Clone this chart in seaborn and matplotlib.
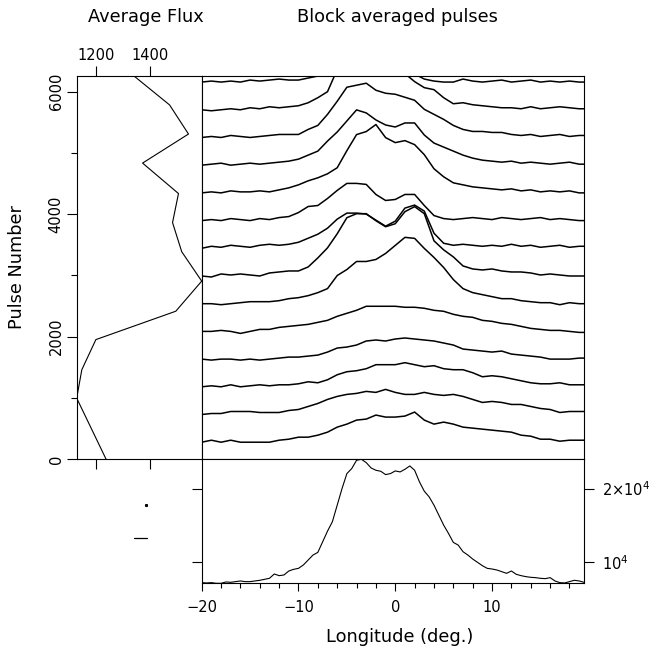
import numpy as np
import pandas as pd
import matplotlib
matplotlib.use("Agg")
import matplotlib.pyplot as plt
from matplotlib.ticker import MultipleLocator
import seaborn as sns

sns.set_style("ticks")
plt.rcParams['font.family'] = ['DejaVu Sans']
plt.rcParams['axes.linewidth'] = 0.8
for key in ['text.color', 'axes.edgecolor', 'axes.labelcolor', 'xtick.color', 'ytick.color']:
    plt.rcParams[key] = 'black'

# longitude grid of the block profiles (deg)
LON = list(range(-20, 20)) + [19.5]

# block profiles, bottom (block 0) to top (block 13), relative intensity
PROFILE_00 = [0, 2, 0, 2, 0, 0, 0, 0, 2, 3, 5, 5, 7, 10, 15, 18, 22, 23, 27, 25,
              25, 26, 30, 22, 18, 20, 18, 15, 14, 13, 12, 11, 10, 7, 6, 3, 3, 1, 2, 2, 2]
PROFILE_01 = [0, 1, 1, 3, 3, 3, 2, 2, 2, 4, 5, 8, 11, 15, 18, 20, 21, 23, 22, 25,
              22, 20, 20, 22, 20, 19, 20, 18, 15, 12, 13, 12, 10, 10, 8, 6, 5, 2, 3, 3, 3]
PROFILE_02 = [0, 1, 0, 2, 0, 1, 2, 1, 2, 2, 3, 5, 4, 7, 12, 15, 16, 18, 22, 22,
              22, 24, 22, 20, 21, 18, 17, 17, 14, 10, 11, 10, 8, 6, 4, 3, 3, 4, 2, 2, 2]
PROFILE_03 = [0, -1, 0, 0, -1, 0, -1, 0, 1, 2, 2, 3, 4, 7, 11, 12, 14, 18, 19, 18,
              20, 21, 20, 19, 18, 16, 14, 10, 9, 8, 7, 8, 5, 4, 3, 2, 0, 0, 0, 1, 1]
PROFILE_04 = [0, 0, 1, 0, -2, 0, 2, 2, 4, 5, 6, 7, 9, 11, 15, 18, 21, 25, 25, 25,
              25, 24, 24, 23, 21, 20, 17, 15, 14, 11, 10, 8, 7, 5, 3, 2, 1, 1, 0, -1, -1]
PROFILE_05 = [0, 0, -1, 0, 1, 2, 2, 2, 3, 5, 6, 8, 11, 15, 28, 34, 42, 42, 44, 50,
              58, 66, 65, 55, 46, 36, 24, 15, 11, 9, 7, 5, 5, 3, 2, 1, 1, -1, 1, 0, 0]
PROFILE_06 = [0, -1, 2, 1, 2, 1, 0, 3, 4, 5, 5, 9, 18, 28, 42, 58, 62, 62, 55, 49,
              52, 64, 69, 62, 35, 26, 19, 10, 7, 6, 7, 5, 4, 4, 3, 1, 2, 1, 0, 0, 0]
PROFILE_07 = [0, 2, 1, 3, 2, 1, 3, 4, 3, 4, 6, 10, 14, 20, 29, 35, 35, 34, 28, 22,
              27, 40, 43, 37, 15, 5, 3, 4, 3, 2, 3, 2, 4, 2, 3, 1, 2, 3, 1, 2, 2]
PROFILE_08 = [0, 1, 0, 2, 1, 0, 2, 1, 3, 4, 8, 14, 15, 22, 30, 37, 37, 36, 26, 20,
              21, 26, 26, 15, 5, 2, 1, 2, 3, 2, 1, 3, 2, 1, 2, 3, 1, 2, 1, 0, 0]
PROFILE_09 = [0, 1, 0, 2, 1, 1, 2, 1, 3, 5, 8, 12, 15, 19, 25, 42, 58, 61, 68, 55,
              50, 52, 48, 38, 24, 16, 10, 8, 6, 5, 4, 3, 4, 2, 3, 1, 2, 1, 2, 0, 0]
PROFILE_10 = [0, 1, 2, 0, 1, 2, 1, 2, 3, 4, 6, 10, 14, 24, 33, 44, 55, 52, 45, 40,
              38, 42, 42, 30, 22, 18, 14, 10, 7, 5, 4, 3, 4, 2, 3, 2, 1, 2, 3, 1, 1]
PROFILE_11 = [0, 1, 0, 2, 1, 0, 1, 2, 3, 3, 3, 8, 12, 23, 36, 50, 52, 54, 47, 44,
              43, 40, 37, 28, 23, 18, 12, 8, 6, 6, 5, 5, 3, 2, 3, 1, 2, 3, 1, 2, 2]
PROFILE_12 = [0, -1, 0, 1, 0, 2, 1, 3, 2, 3, 4, 7, 12, 18, 40, 55, 60, 60, 58, 55,
              48, 36, 28, 22, 20, 12, 6, 7, 5, 4, 3, 2, 2, 1, 3, 1, 2, 3, 2, 1, 1]
PROFILE_13 = [0, 1, 0, 1, 0, 2, 1, 2, 3, 2, 2, 4, 6, 7, 12, 25, 35, 40, 38, 30,
              25, 18, 8, 3, 1, 0, 0, 3, 1, 0, 1, 2, 0, 1, 2, 0, 1, 0, 1, 0, 0]

BLOCK_SIZE = 452      # pulses per block
BASE_LEVEL = 17       # baseline level of each block
SCALE = 16.4          # pulse-axis units per intensity unit
N_PULSES = 6262

# average flux per block
FLUX = [1237, 1128, 1147, 1199, 1495, 1591, 1517, 1483, 1505, 1372, 1542, 1472, 1338]
FLUX_PULSE = [0, 998, 1462, 1953, 2416, 2907, 3387, 3862, 4336, 4833, 5307, 5782, 6262]

# integrated profile
AVG_LON = np.arange(-20, 20, 0.5)
AVG_FLUX = [7131, 7086, 7131, 7040, 7040, 7222, 7177, 7268, 7359, 7268,
            7268, 7359, 7450, 7586, 7722, 8313, 8086, 8177, 8723, 8950,
            9086, 9541, 10223, 10905, 11268, 12724, 14179, 15452, 17725, 20000,
            22045, 22727, 23864, 24000, 23546, 22818, 22500, 22364, 21909, 22045,
            22409, 22273, 22636, 23091, 22500, 20908, 19635, 18862, 17725, 16361,
            14998, 13861, 12633, 12269, 11360, 10905, 10359, 9905, 9450, 9086,
            8996, 8859, 8632, 8404, 8723, 8268, 8086, 7950, 7859, 7813,
            7722, 7677, 7813, 7359, 7131, 7086, 7268, 7450, 7359, 7177]

profiles = [PROFILE_00, PROFILE_01, PROFILE_02, PROFILE_03, PROFILE_04, PROFILE_05, PROFILE_06,
            PROFILE_07, PROFILE_08, PROFILE_09, PROFILE_10, PROFILE_11, PROFILE_12, PROFILE_13]
rows = []
for k, prof in enumerate(profiles):
    for lon, h in zip(LON, prof):
        rows.append((k, lon, k * BLOCK_SIZE + (BASE_LEVEL + h) * SCALE))
blocks = pd.DataFrame(rows, columns=["block", "lon", "pulse"])

W, H = 652, 654
fig = plt.figure(figsize=(W / 100, H / 100), dpi=100)

def box(x0, y0, x1, y1):
    return [x0 / W, 1 - y1 / H, (x1 - x0) / W, (y1 - y0) / H]

# flux panel
ax_f = fig.add_axes(box(76.7, 75.5, 201.7, 459.3))
sns.lineplot(x=FLUX, y=FLUX_PULSE, sort=False, estimator=None, color="k", lw=0.8, ax=ax_f)
ax_f.set_xlim(min(FLUX), max(FLUX))
ax_f.set_ylim(0, N_PULSES)
ax_f.set_xticks([1200, 1400])
ax_f.tick_params(axis="x", top=True, bottom=True, labeltop=True, labelbottom=False,
                 length=7, width=0.8, pad=2, labelsize=10.5)
ax_f.set_yticks([0, 2000, 4000, 6000])
ax_f.yaxis.set_minor_locator(MultipleLocator(1000))
ax_f.tick_params(axis="y", which="major", length=7, width=0.8, pad=2.5, labelsize=10.5, labelrotation=90)
ax_f.tick_params(axis="y", which="minor", length=4.5, width=0.8)
for t in ax_f.get_yticklabels():
    t.set_va("center")
ax_f.set_xlabel("")
ax_f.set_ylabel("")

# block averaged pulses
ax_m = fig.add_axes(box(201.7, 75.5, 584, 459.3))
sns.lineplot(data=blocks, x="lon", y="pulse", units="block", estimator=None, sort=False,
             color="k", lw=1.1, legend=False, ax=ax_m)
ax_m.set_xlim(-20, 19.5)
ax_m.set_ylim(0, N_PULSES)
ax_m.set_xticks([])
ax_m.set_yticks([])
ax_m.set_xlabel("")
ax_m.set_ylabel("")

# integrated profile
ax_b = fig.add_axes(box(201.7, 459.3, 584, 583.3))
sns.lineplot(x=AVG_LON, y=AVG_FLUX, color="k", lw=0.8, ax=ax_b)
ax_b.set_xlim(-20, 19.5)
ax_b.set_ylim(7040, 24000)
ax_b.set_xticks([-20, -10, 0, 10])
ax_b.set_xticklabels(["\u221220", "\u221210", "0", "10"])
ax_b.xaxis.set_minor_locator(MultipleLocator(2))
ax_b.tick_params(axis="x", which="major", length=6, width=0.8, pad=6, labelsize=10.5)
ax_b.tick_params(axis="x", which="minor", length=3.5, width=0.8)
ax_b.set_yticks([10000, 20000])
ax_b.set_yticklabels([r"$10^4$", r"$2{\times}10^4$"])
ax_b.tick_params(axis="y", left=True, right=True, labelleft=False, labelright=True,
                 length=7, width=0.8, pad=6, labelsize=10.5)

# scale marks below the flux panel
ax_s = fig.add_axes(box(76.7, 459.3, 201.7, 583.3))
ax_s.set_axis_off()
ax_s.set_xlim(0, 1)
ax_s.set_ylim(0, 1)
ax_s.plot([0.555], [0.63], marker="s", ms=1.2, color="k")
ax_s.plot([0.46, 0.565], [0.365, 0.365], color="k", lw=0.9)

fig.text(146 / W, 1 - 17 / H, "Average Flux", ha="center", va="center", fontsize=12.8)
fig.text(397 / W, 1 - 17 / H, "Block averaged pulses", ha="center", va="center", fontsize=12.8)
fig.text(17 / W, 1 - 267 / H, "Pulse Number", ha="center", va="center", rotation=90, fontsize=12.8)
fig.text(400 / W, 1 - 637 / H, "Longitude (deg.)", ha="center", va="center", fontsize=12.8)

fig.savefig("out.png", dpi=100, facecolor="white")
